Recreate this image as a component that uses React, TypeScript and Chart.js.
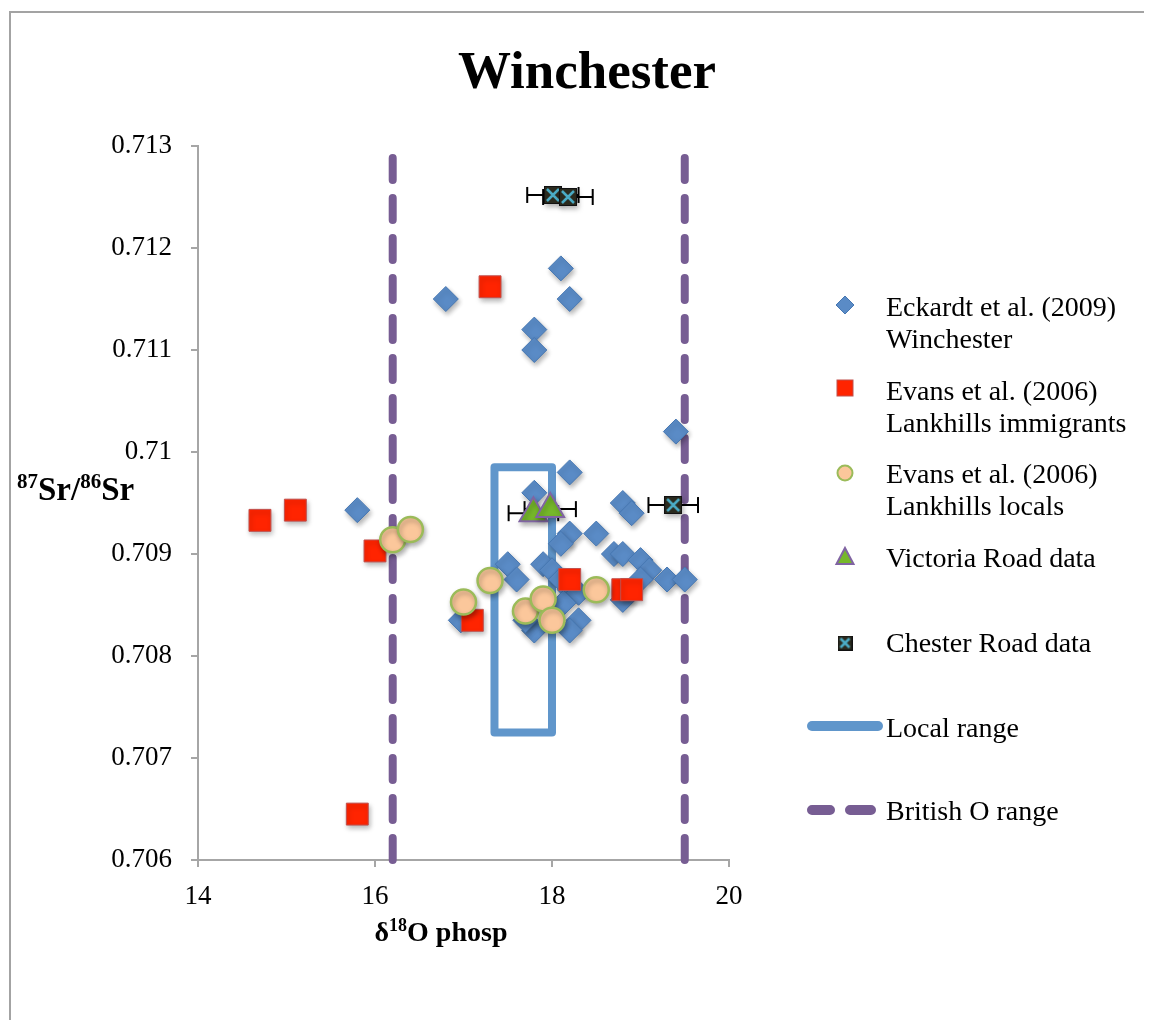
import React, { useEffect, useRef } from "react";
import { Chart, registerables } from "chart.js";

Chart.register(...registerables);

// ---------------- data ----------------
const ECKARDT_X = [16.8, 18.1, 18.2, 17.8, 17.8, 19.4, 15.8, 18.2, 17.8, 18.8, 18.9, 18.2, 18.1, 18.5, 17.5, 17.9, 17.6, 18.0, 18.1, 18.2, 18.3, 18.13, 18.3, 18.2, 17.8, 17.7, 18.7, 18.8, 19.0, 19.1, 19.0, 19.3, 19.5, 16.97, 18.8];
const ECKARDT_Y = [0.7115, 0.7118, 0.7115, 0.7112, 0.711, 0.7102, 0.70943, 0.7098, 0.7096, 0.7095, 0.7094, 0.7092, 0.7091, 0.7092, 0.7089, 0.7089, 0.70875, 0.70884, 0.70875, 0.70865, 0.70862, 0.70852, 0.70835, 0.70825, 0.70825, 0.70835, 0.709, 0.709, 0.70894, 0.70884, 0.70875, 0.70875, 0.70875, 0.70835, 0.70855];

const IMMIGRANTS_X = [14.7, 15.1, 16.0, 17.3, 17.1, 18.2, 18.8, 18.9, 15.8];
const IMMIGRANTS_Y = [0.70933, 0.70943, 0.70903, 0.71162, 0.70835, 0.70875, 0.70865, 0.70865, 0.70645];

const LOCALS_X = [16.2, 16.4, 17.0, 17.3, 17.7, 17.9, 18.0, 18.5];
const LOCALS_Y = [0.70914, 0.70924, 0.70853, 0.70874, 0.70844, 0.70856, 0.70835, 0.70865];

const VICTORIA_X = [17.79, 17.98];
const VICTORIA_Y = [0.7094, 0.70944];
const VICTORIA_ERR = [0.28, 0.29];

const CHESTER_X = [18.01, 18.18, 19.37];
const CHESTER_Y = [0.71252, 0.7125, 0.70948];
const CHESTER_ERR = [0.29, 0.28, 0.28];

const LOCAL_RANGE_X = [17.35, 17.35, 18.0, 18.0, 17.35];
const LOCAL_RANGE_Y = [0.70725, 0.70985, 0.70985, 0.70725, 0.70725];

const BRITISH_O_X = [16.2, 19.5];
const BRITISH_O_Y = [0.706, 0.713];

const X_TICKS = [14, 16, 18, 20];
const X_TICK_LABELS = ["14", "16", "18", "20"];
const Y_TICKS = [0.706, 0.707, 0.708, 0.709, 0.71, 0.711, 0.712, 0.713];
const Y_TICK_LABELS = ["0.706", "0.707", "0.708", "0.709", "0.71", "0.711", "0.712", "0.713"];

const TITLE = "Winchester";
const SERIES_NAMES = [
  ["Eckardt et al. (2009)", "Winchester"],
  ["Evans et al. (2006)", "Lankhills immigrants"],
  ["Evans et al. (2006)", "Lankhills locals"],
  ["Victoria Road data"],
  ["Chester Road data"],
  ["Local range"],
  ["British O range"],
];

// ---------------- styles ----------------
const TEXT_FONT = "'Liberation Serif', 'Times New Roman', serif";
const TICK_FONT = "'Liberation Serif', 'Times New Roman', serif";
const AXIS_COLOR = "#a6a6a6";
const BLUE = "#5a8bc6";
const BLUE_EDGE = "#4677b2";
const RED = "#ff2400";
const RED_EDGE = "#c0504d";
const PEACH = "#fbc79b";
const GREEN_EDGE = "#9bbb59";
const TRI_FILL = "#76b82a";
const TRI_EDGE = "#8064a2";
const LOCAL_COLOR = "#6096cb";
const BRIT_COLOR = "#775d93";
const CHESTER_FILL = "#2a2a1e";
const CHESTER_X_COLOR = "#4bacc6";

const W = 1144;
const H = 1012;

function pts(xs: number[], ys: number[]) {
  return xs.map((x, i) => ({ x, y: ys[i] }));
}

function makeChesterMarker(size: number) {
  const c = document.createElement("canvas");
  c.width = size;
  c.height = size;
  const g = c.getContext("2d")!;
  g.fillStyle = CHESTER_FILL;
  g.fillRect(0, 0, size, size);
  g.strokeStyle = "#111";
  g.lineWidth = 1;
  g.strokeRect(0.5, 0.5, size - 1, size - 1);
  g.strokeStyle = CHESTER_X_COLOR;
  g.lineWidth = 2.5;
  g.beginPath();
  g.moveTo(3, 3);
  g.lineTo(size - 3, size - 3);
  g.moveTo(size - 3, 3);
  g.lineTo(3, size - 3);
  g.stroke();
  return c;
}

function errorBars(xs: number[], ys: number[], errs: number[]) {
  return xs.map((x, i) => ({
    label: "err",
    data: [
      { x: x - errs[i], y: ys[i] },
      { x: x + errs[i], y: ys[i] },
    ],
    showLine: true,
    borderColor: "#000",
    borderWidth: 2,
    pointStyle: "line",
    pointRotation: 90,
    pointRadius: 8,
    pointBorderColor: "#000",
    pointBorderWidth: 2,
    order: 8,
    clip: false,
  }));
}

function drawRich(ctx: CanvasRenderingContext2D, parts: { t: string; sup?: boolean }[], x: number, y: number, size: number, supSize: number, align: "left" | "center") {
  const bold = "bold ";
  let total = 0;
  for (const p of parts) {
    ctx.font = `${bold}${p.sup ? supSize : size}px ${TEXT_FONT}`;
    total += ctx.measureText(p.t).width;
  }
  let cx = align === "center" ? x - total / 2 : x;
  ctx.textAlign = "left";
  ctx.textBaseline = "alphabetic";
  for (const p of parts) {
    ctx.font = `${bold}${p.sup ? supSize : size}px ${TEXT_FONT}`;
    ctx.fillText(p.t, cx, p.sup ? y - size * 0.36 : y);
    cx += ctx.measureText(p.t).width;
  }
}

const decorPlugin = {
  id: "decor",
  beforeDraw(chart: any) {
    const ctx = chart.ctx as CanvasRenderingContext2D;
    ctx.save();
    ctx.strokeStyle = "#a3a3a3";
    ctx.lineWidth = 2;
    ctx.beginPath();
    ctx.moveTo(2, H);
    ctx.lineTo(2, 4);
    ctx.lineTo(W, 4);
    ctx.stroke();
    ctx.restore();
  },
  beforeDatasetDraw(chart: any, args: any) {
    const ds = chart.data.datasets[args.index];
    if (ds.shadow) {
      const ctx = chart.ctx as CanvasRenderingContext2D;
      ctx.save();
      ctx.shadowColor = "rgba(0,0,0,0.3)";
      ctx.shadowBlur = 5;
      ctx.shadowOffsetX = 1.5;
      ctx.shadowOffsetY = 3;
    }
  },
  afterDatasetDraw(chart: any, args: any) {
    const ds = chart.data.datasets[args.index];
    if (ds.shadow) chart.ctx.restore();
  },
  afterDraw(chart: any) {
    const ctx = chart.ctx as CanvasRenderingContext2D;
    ctx.save();
    ctx.fillStyle = "#000";
    // title
    ctx.font = `bold 53px ${TEXT_FONT}`;
    ctx.textAlign = "center";
    ctx.textBaseline = "alphabetic";
    ctx.fillText(TITLE, 579, 80);
    // axis titles
    drawRich(ctx, [{ t: "87", sup: true }, { t: "Sr/" }, { t: "86", sup: true }, { t: "Sr" }], 9, 492, 33, 21, "left");
    drawRich(ctx, [{ t: "δ" }, { t: "18", sup: true }, { t: "O phosp" }], 433, 933, 28, 18, "center");

    // legend
    const mx = 837;
    const tx = 878;
    const lineH = 32;
    const firstBase = [308, 392, 475, 559, 644, 729, 812];
    const markerY = [297, 380, 465, 549, 635, 718, 802];
    ctx.font = `28px ${TEXT_FONT}`;
    ctx.textAlign = "left";
    SERIES_NAMES.forEach((lines, i) => {
      lines.forEach((ln, j) => ctx.fillText(ln, tx, firstBase[i] + j * lineH));
    });
    // markers
    let y = markerY[0];
    ctx.fillStyle = BLUE;
    ctx.strokeStyle = BLUE_EDGE;
    ctx.lineWidth = 1;
    ctx.beginPath();
    ctx.moveTo(mx, y - 9);
    ctx.lineTo(mx + 9, y);
    ctx.lineTo(mx, y + 9);
    ctx.lineTo(mx - 9, y);
    ctx.closePath();
    ctx.fill();
    ctx.stroke();
    y = markerY[1];
    ctx.fillStyle = RED;
    ctx.strokeStyle = RED_EDGE;
    ctx.fillRect(mx - 8, y - 8, 16, 16);
    ctx.strokeRect(mx - 8, y - 8, 16, 16);
    y = markerY[2];
    ctx.fillStyle = PEACH;
    ctx.strokeStyle = GREEN_EDGE;
    ctx.lineWidth = 2;
    ctx.beginPath();
    ctx.arc(mx, y, 7.5, 0, Math.PI * 2);
    ctx.fill();
    ctx.stroke();
    y = markerY[3];
    ctx.fillStyle = TRI_FILL;
    ctx.strokeStyle = TRI_EDGE;
    ctx.beginPath();
    ctx.moveTo(mx, y - 9);
    ctx.lineTo(mx + 8.5, y + 7);
    ctx.lineTo(mx - 8.5, y + 7);
    ctx.closePath();
    ctx.fill();
    ctx.stroke();
    y = markerY[4];
    ctx.drawImage(makeChesterMarker(15), mx - 7.5, y - 7.5);
    y = markerY[5];
    ctx.strokeStyle = LOCAL_COLOR;
    ctx.lineWidth = 10;
    ctx.lineCap = "round";
    ctx.beginPath();
    ctx.moveTo(804, y);
    ctx.lineTo(870, y);
    ctx.stroke();
    y = markerY[6];
    ctx.strokeStyle = BRIT_COLOR;
    ctx.beginPath();
    ctx.moveTo(804, y);
    ctx.lineTo(822, y);
    ctx.moveTo(842, y);
    ctx.lineTo(863, y);
    ctx.stroke();
    ctx.restore();
  },
};

export default function App() {
  const ref = useRef<HTMLCanvasElement | null>(null);

  useEffect(() => {
    if (!ref.current) return;
    const chester = makeChesterMarker(18);
    const datasets: any[] = [
      {
        label: "British O range",
        data: [
          { x: BRITISH_O_X[0], y: BRITISH_O_Y[0] },
          { x: BRITISH_O_X[0], y: BRITISH_O_Y[1] },
        ],
        showLine: true,
        borderColor: BRIT_COLOR,
        borderWidth: 8,
        borderDash: [22, 18],
        borderCapStyle: "round",
        pointRadius: 0,
        order: 10,
        clip: false,
      },
      {
        label: "British O range 2",
        data: [
          { x: BRITISH_O_X[1], y: BRITISH_O_Y[0] },
          { x: BRITISH_O_X[1], y: BRITISH_O_Y[1] },
        ],
        showLine: true,
        borderColor: BRIT_COLOR,
        borderWidth: 8,
        borderDash: [22, 18],
        borderCapStyle: "round",
        pointRadius: 0,
        order: 10,
        clip: false,
      },
      {
        label: "Local range",
        data: pts(LOCAL_RANGE_X, LOCAL_RANGE_Y),
        showLine: true,
        borderColor: LOCAL_COLOR,
        borderWidth: 8,
        borderJoinStyle: "round",
        borderCapStyle: "round",
        pointRadius: 0,
        order: 9,
        clip: false,
      },
      ...errorBars(VICTORIA_X, VICTORIA_Y, VICTORIA_ERR),
      ...errorBars(CHESTER_X, CHESTER_Y, CHESTER_ERR),
      {
        label: "Eckardt et al. (2009) Winchester",
        data: pts(ECKARDT_X, ECKARDT_Y),
        pointStyle: "rectRot",
        pointRadius: 12.5,
        backgroundColor: BLUE,
        borderColor: BLUE_EDGE,
        borderWidth: 1,
        order: 5,
        shadow: true,
        clip: false,
      },
      {
        label: "Evans et al. (2006) Lankhills immigrants",
        data: pts(IMMIGRANTS_X, IMMIGRANTS_Y),
        pointStyle: "rect",
        pointRadius: 15.5,
        backgroundColor: RED,
        borderColor: RED_EDGE,
        borderWidth: 1,
        order: 4,
        shadow: true,
        clip: false,
      },
      {
        label: "Evans et al. (2006) Lankhills locals",
        data: pts(LOCALS_X, LOCALS_Y),
        pointStyle: "circle",
        pointRadius: 12.5,
        backgroundColor: PEACH,
        borderColor: GREEN_EDGE,
        borderWidth: 2.5,
        order: 3,
        shadow: true,
        clip: false,
      },
      {
        label: "Victoria Road data",
        data: pts(VICTORIA_X, VICTORIA_Y),
        pointStyle: "triangle",
        pointRadius: 16,
        backgroundColor: TRI_FILL,
        borderColor: TRI_EDGE,
        borderWidth: 2,
        order: 2,
        shadow: true,
        clip: false,
      },
      {
        label: "Chester Road data",
        data: pts(CHESTER_X, CHESTER_Y),
        pointStyle: chester,
        pointRadius: 9,
        order: 1,
        shadow: true,
        clip: false,
      },
    ];

    const chart = new Chart(ref.current, {
      type: "scatter",
      data: { datasets },
      plugins: [decorPlugin as any],
      options: {
        responsive: false,
        animation: false,
        events: [],
        layout: { padding: { left: 10, right: 423, top: 138, bottom: 60 } },
        plugins: {
          legend: { display: false },
          tooltip: { enabled: false },
          title: { display: false },
        },
        scales: {
          x: {
            type: "linear",
            min: 14,
            max: 20,
            afterBuildTicks: (s: any) => {
              s.ticks = X_TICKS.map((v) => ({ value: v }));
            },
            afterFit: (s: any) => {
              s.height = 100;
            },
            ticks: {
              autoSkip: false,
              maxRotation: 0,
              padding: 14,
              color: "#000",
              font: { family: TICK_FONT, size: 27 },
              callback: (_v: any, i: number) => X_TICK_LABELS[i],
            },
            grid: { display: true, drawOnChartArea: false, drawTicks: true, tickLength: 7, color: AXIS_COLOR, lineWidth: 2 },
            border: { display: true, color: AXIS_COLOR, width: 2 },
          },
          y: {
            type: "linear",
            min: 0.706,
            max: 0.713,
            afterBuildTicks: (s: any) => {
              s.ticks = Y_TICKS.map((v) => ({ value: v }));
            },
            afterFit: (s: any) => {
              s.width = 180;
            },
            ticks: {
              autoSkip: false,
              padding: 19,
              color: "#000",
              font: { family: TICK_FONT, size: 27 },
              callback: (_v: any, i: number) => Y_TICK_LABELS[i],
            },
            grid: { display: true, drawOnChartArea: false, drawTicks: true, tickLength: 7, color: AXIS_COLOR, lineWidth: 2 },
            border: { display: true, color: AXIS_COLOR, width: 2 },
          },
        },
      } as any,
    });
    return () => chart.destroy();
  }, []);

  return (
    <div style={{ position: "relative", width: W, height: H, background: "#fff" }}>
      <canvas ref={ref} width={W} height={H} style={{ width: W, height: H, display: "block" }} />
    </div>
  );
}
